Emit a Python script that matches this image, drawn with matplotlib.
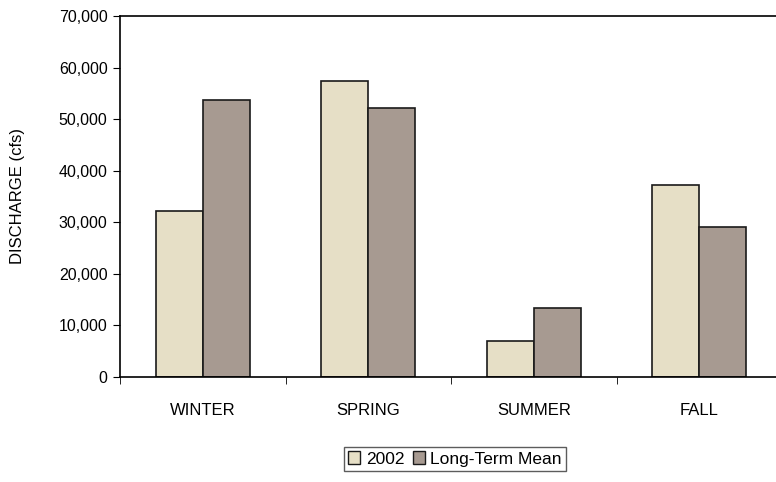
import numpy as np
import matplotlib.pyplot as plt
from matplotlib.ticker import FuncFormatter
from matplotlib.patches import Patch

seasons = ["WINTER", "SPRING", "SUMMER", "FALL"]
q_2002 = [32100, 57300, 7000, 37200]
q_mean = [53700, 52100, 13400, 29100]

plt.rcParams['font.family'] = ['Liberation Sans', 'DejaVu Sans']

fig = plt.figure(figsize=(7.76, 4.82), dpi=100)
ax = fig.add_axes([120 / 776, 1 - 377 / 482, 662 / 776, 361 / 482])

x = np.arange(len(seasons))
w = 0.285
c1 = '#e6dfc6'
c2 = '#a79a91'
ax.bar(x - w / 2, q_2002, w, color=c1, edgecolor='#1a1a1a', linewidth=1.2)
ax.bar(x + w / 2, q_mean, w, color=c2, edgecolor='#1a1a1a', linewidth=1.2)

ax.set_xlim(-0.5, len(seasons) - 0.5)
ax.set_ylim(0, 70000)
ax.set_yticks(np.arange(0, 70001, 10000))
ax.yaxis.set_major_formatter(FuncFormatter(lambda v, p: f"{int(v):,}"))
ax.tick_params(axis='y', direction='out', length=5, labelsize=11.5, pad=4)

ax.set_xticks(x)
ax.set_xticklabels(seasons)
for lab in ax.get_xticklabels():
    lab.set_fontstretch('expanded')
ax.tick_params(axis='x', which='major', length=0, labelsize=12, pad=19)
ax.set_xticks(np.arange(-0.5, len(seasons)), minor=True)
ax.tick_params(axis='x', which='minor', direction='out', length=5)

for s in ['top', 'left', 'bottom', 'right']:
    ax.spines[s].set_linewidth(1.2)
ax.set_ylabel("DISCHARGE (cfs)", fontsize=12, labelpad=24)

handles = [Patch(facecolor=c1, edgecolor='#1a1a1a'), Patch(facecolor=c2, edgecolor='#1a1a1a')]
fig.legend(handles, ["2002", "Long-Term Mean"], loc='center', bbox_to_anchor=(455 / 776, 1 - 459 / 482),
           ncol=2, fontsize=12.5, frameon=True, fancybox=False, edgecolor='#333333',
           handlelength=0.7, handleheight=0.7, handletextpad=0.3, columnspacing=0.5,
           borderpad=0.25)

fig.savefig("out.png", dpi=100)
